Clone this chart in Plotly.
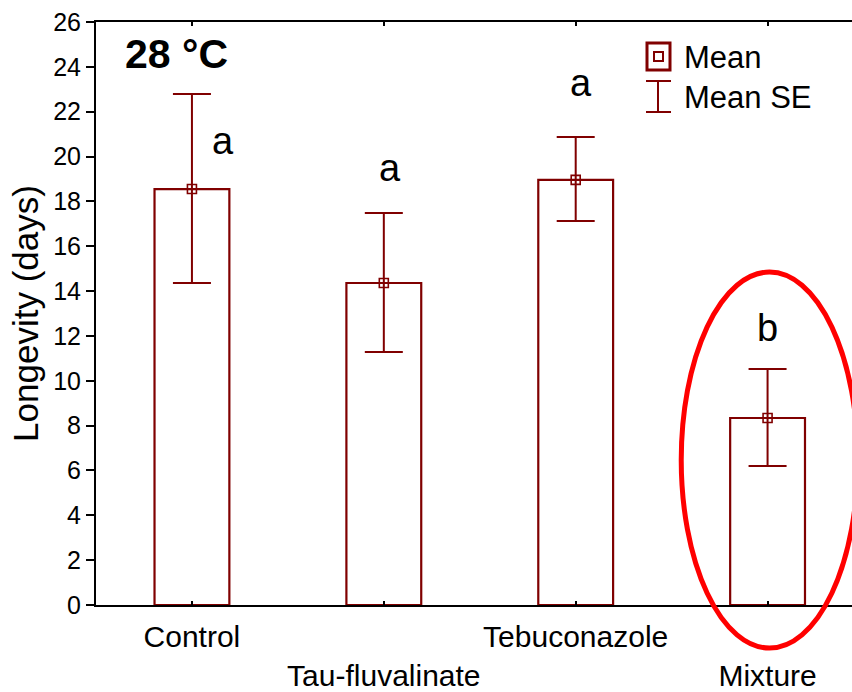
import plotly.graph_objects as go

categories = ["Control", "Tau-fluvalinate", "Tebuconazole", "Mixture"]
tick_labels = ["Control", " <br>Tau-fluvalinate", "Tebuconazole", " <br>Mixture"]
means = [18.55, 14.36, 18.96, 8.34]
upper = [22.79, 17.48, 20.87, 10.53]
lower = [14.36, 11.28, 17.13, 6.20]
letters = ["a", "a", "a", "b"]
letter_x = [0.16, 1.03, 2.03, 3.0]
letter_y = [20.7, 19.5, 23.3, 12.35]

DR = "#800000"
FONT = "Arial, Liberation Sans, sans-serif"
W, H = 852, 692
ML, MR, MT, MB = 96, 0, 22, 87
XR = [-0.5, 3.44]
YR = [0, 26]

def px_x(px):
    return (px - ML) / (W - ML - MR)

def px_y(py):
    return (H - MB - py) / (H - MT - MB)

def dx_paper(x):
    return (x - XR[0]) / (XR[1] - XR[0])

def dy_paper(y):
    return (y - YR[0]) / (YR[1] - YR[0])

xs = list(range(len(categories)))
err_plus = [u - m for u, m in zip(upper, means)]
err_minus = [m - l for m, l in zip(means, lower)]

fig = go.Figure()
fig.add_trace(go.Bar(
    x=xs, y=means, width=0.39,
    marker=dict(color="white", line=dict(color=DR, width=2.2)),
    showlegend=False, hoverinfo="skip"))
fig.add_trace(go.Scatter(
    x=xs, y=means, mode="markers",
    marker=dict(symbol="square-open", size=9, color=DR, line=dict(width=1.6, color=DR)),
    error_y=dict(type="data", symmetric=False, array=err_plus, arrayminus=err_minus,
                 color=DR, thickness=2, width=19),
    showlegend=False))

annotations = []
for lx, ly, t in zip(letter_x, letter_y, letters):
    annotations.append(dict(x=lx, y=ly, text=t, showarrow=False, xref="x", yref="y",
                            xanchor="center", yanchor="middle",
                            font=dict(size=38, color="black", family=FONT)))
annotations.append(dict(x=px_x(176), y=px_y(54), xref="paper", yref="paper", text="<b>28 °C</b>",
                        xanchor="center", yanchor="middle",
                        showarrow=False, font=dict(size=41, color="black", family=FONT)))
annotations.append(dict(x=px_x(682), y=px_y(57), xref="paper", yref="paper", text="Mean",
                        xanchor="left", yanchor="middle",
                        showarrow=False, font=dict(size=31, color="black", family=FONT)))
annotations.append(dict(x=px_x(682), y=px_y(97), xref="paper", yref="paper", text="Mean SE",
                        xanchor="left", yanchor="middle",
                        showarrow=False, font=dict(size=31, color="black", family=FONT)))

shapes = []
# legend: mean symbol
shapes.append(dict(type="rect", xref="paper", yref="paper", x0=px_x(647), x1=px_x(670),
                   y0=px_y(70), y1=px_y(43), line=dict(color=DR, width=3)))
shapes.append(dict(type="rect", xref="paper", yref="paper", x0=px_x(654), x1=px_x(663),
                   y0=px_y(61), y1=px_y(52), line=dict(color=DR, width=2)))
# legend: error bar symbol
shapes.append(dict(type="line", xref="paper", yref="paper", x0=px_x(658), x1=px_x(658),
                   y0=px_y(81), y1=px_y(112), line=dict(color=DR, width=2)))
shapes.append(dict(type="line", xref="paper", yref="paper", x0=px_x(646), x1=px_x(671),
                   y0=px_y(81), y1=px_y(81), line=dict(color=DR, width=2)))
shapes.append(dict(type="line", xref="paper", yref="paper", x0=px_x(646), x1=px_x(671),
                   y0=px_y(112), y1=px_y(112), line=dict(color=DR, width=2)))
# red ellipse around Mixture
shapes.append(dict(type="circle", xref="paper", yref="paper",
                   x0=dx_paper(2.55), x1=dx_paper(3.47), y0=dy_paper(-1.92), y1=dy_paper(14.85),
                   line=dict(color="#ff0000", width=5)))

fig.update_layout(
    width=W, height=H,
    margin=dict(l=ML, r=MR, t=MT, b=MB, pad=0),
    plot_bgcolor="white", paper_bgcolor="white",
    font=dict(family=FONT, color="black"),
    xaxis=dict(range=XR, tickmode="array", tickvals=xs, ticktext=tick_labels,
               showline=True, linecolor="black", linewidth=2, mirror="ticks",
               ticks="inside", ticklen=4, tickcolor="black", tickwidth=1.5,
               ticklabelstandoff=4,
               showgrid=False, zeroline=False, tickfont=dict(size=30, family=FONT, color="black")),
    yaxis=dict(range=YR, tickmode="array", tickvals=list(range(0, 27, 2)),
               showline=True, linecolor="black", linewidth=2,
               ticks="outside", ticklen=8, tickcolor="black", tickwidth=1.5,
               showgrid=False, zeroline=False, tickfont=dict(size=25, family=FONT, color="black"),
               title=dict(text="Longevity (days)", font=dict(size=35, family=FONT, color="black"),
                          standoff=4)),
    annotations=annotations, shapes=shapes,
)

fig.write_html("out.html")
